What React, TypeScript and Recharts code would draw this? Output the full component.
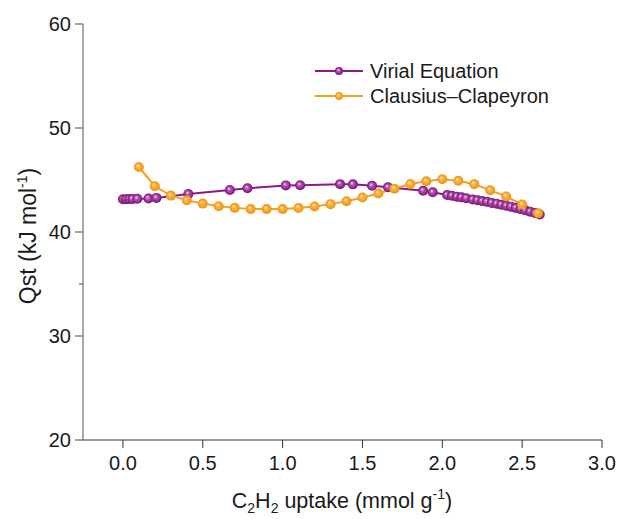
import React from 'react';
import { LineChart, Line, XAxis, YAxis, Legend } from 'recharts';

const virialX = [0, 0.02, 0.04, 0.06, 0.09, 0.16, 0.21, 0.41, 0.67, 0.78, 1.02, 1.11, 1.36, 1.44, 1.56, 1.66, 1.88, 1.94, 2.03, 2.06, 2.09, 2.12, 2.15, 2.19, 2.22, 2.25, 2.28, 2.31, 2.34, 2.37, 2.40, 2.43, 2.46, 2.49, 2.52, 2.55, 2.58, 2.61];
const virialY = [43.15, 43.16, 43.17, 43.18, 43.2, 43.22, 43.28, 43.66, 44.04, 44.2, 44.48, 44.5, 44.6, 44.58, 44.44, 44.3, 43.97, 43.82, 43.55, 43.48, 43.4, 43.33, 43.25, 43.12, 43.05, 42.97, 42.9, 42.8, 42.72, 42.62, 42.52, 42.43, 42.32, 42.2, 42.08, 41.95, 41.82, 41.68];

const ccX = [0.1, 0.2, 0.3, 0.4, 0.5, 0.6, 0.7, 0.8, 0.9, 1.0, 1.1, 1.2, 1.3, 1.4, 1.5, 1.6, 1.7, 1.8, 1.9, 2.0, 2.1, 2.2, 2.3, 2.4, 2.5, 2.6];
const ccY = [46.25, 44.4, 43.5, 43.05, 42.73, 42.48, 42.32, 42.2, 42.2, 42.2, 42.3, 42.46, 42.68, 42.96, 43.32, 43.7, 44.17, 44.62, 44.88, 45.08, 44.92, 44.6, 44.02, 43.42, 42.64, 41.8];

const xTicks = [0, 0.5, 1, 1.5, 2, 2.5, 3];
const yTicks = [20, 30, 35, 40, 50, 60];
const yMinor = [35];
const seriesNames = ['Virial Equation', 'Clausius\u2013Clapeyron'];

const PURPLE = '#8C1889';
const ORANGE = '#F5A01E';
const FONT = '"Liberation Sans", Arial, sans-serif';
const TEXT = '#1a1a1a';

const virialData = virialX.map((x, i) => ({ x, y: virialY[i] }));
const ccData = ccX.map((x, i) => ({ x, y: ccY[i] }));

const makeDot = (grad: string, r: number) => (props: any) => {
  const { cx, cy, index } = props;
  if (cx == null || cy == null) return <g key={index} />;
  return <circle key={index} cx={cx} cy={cy} r={r} fill={`url(#${grad})`} />;
};

const YTick = (props: any) => {
  const { x, y, payload } = props;
  const axisX = x + 12;
  const minor = yMinor.includes(payload.value);
  return (
    <g>
      <line x1={axisX - (minor ? 4 : 8)} x2={axisX} y1={y} y2={y} stroke="#444" strokeWidth={1} />
      {!minor && (
        <text x={x} y={y} dy="0.355em" textAnchor="end" fontSize={20} fontFamily={FONT} fill={TEXT}>
          {payload.value}
        </text>
      )}
    </g>
  );
};

const XLabel = () => (
  <text x={342} y={508} textAnchor="middle" fontSize={21.5} fontFamily={FONT} fill={TEXT}>
    <tspan>C</tspan>
    <tspan fontSize={14} dy={5}>2</tspan>
    <tspan dy={-5}>H</tspan>
    <tspan fontSize={14} dy={5}>2</tspan>
    <tspan dy={-5}> uptake (mmol g</tspan>
    <tspan fontSize={14} dy={-9}>-1</tspan>
    <tspan dy={9}>)</tspan>
  </text>
);

const YLabel = () => (
  <text
    x={0}
    y={0}
    transform="translate(36,236) rotate(-90)"
    textAnchor="middle"
    fontSize={23}
    fontFamily={FONT}
    fill={TEXT}
  >
    <tspan>Qst (kJ mol</tspan>
    <tspan fontSize={14} dy={-9}>-1</tspan>
    <tspan dy={9}>)</tspan>
  </text>
);

const LegendContent = () => {
  const items = [
    { name: seriesNames[0], grad: 'gPurple', color: PURPLE },
    { name: seriesNames[1], grad: 'gOrange', color: ORANGE },
  ];
  return (
    <div style={{ fontFamily: FONT, fontSize: 20, color: TEXT }}>
      {items.map((it) => (
        <div key={it.name} style={{ display: 'flex', alignItems: 'center', height: 25 }}>
          <svg width={55} height={20} style={{ display: 'block' }}>
            <line x1={0} x2={48} y1={10} y2={10} stroke={it.color} strokeWidth={2} />
            <circle cx={24} cy={10} r={4} fill={`url(#${it.grad})`} />
          </svg>
          <span style={{ lineHeight: '20px' }}>{it.name}</span>
        </div>
      ))}
    </div>
  );
};

export default function App() {
  return (
    <div style={{ position: 'absolute', left: 0, top: 0, width: 617, height: 519, background: '#fff' }}>
      <svg width={0} height={0} style={{ position: 'absolute' }}>
        <defs>
          <radialGradient id="gPurple" cx="50%" cy="50%" r="50%" fx="38%" fy="35%">
            <stop offset="0%" stopColor="#F4DDF2" />
            <stop offset="35%" stopColor="#B45AB0" />
            <stop offset="100%" stopColor="#7A0F78" />
          </radialGradient>
          <radialGradient id="gOrange" cx="50%" cy="50%" r="50%" fx="38%" fy="35%">
            <stop offset="0%" stopColor="#FFF2D6" />
            <stop offset="35%" stopColor="#F8B445" />
            <stop offset="100%" stopColor="#EE9410" />
          </radialGradient>
        </defs>
      </svg>
      <LineChart width={617} height={519} margin={{ top: 24, right: 15, bottom: 18, left: 0 }}>
        <XAxis
          type="number"
          dataKey="x"
          domain={[-0.25, 3]}
          ticks={xTicks}
          allowDataOverflow
          height={61}
          tickSize={8}
          tickMargin={8}
          stroke="#333"
          tick={{ fontSize: 20, fontFamily: FONT, fill: TEXT }}
          tickFormatter={(v: number) => v.toFixed(1)}
          label={<XLabel />}
        />
        <XAxis
          xAxisId="top"
          orientation="top"
          type="number"
          domain={[-0.25, 3]}
          height={0}
          tick={false}
          tickLine={false}
          stroke="#333"
        />
        <YAxis
          type="number"
          domain={[20, 60]}
          ticks={yTicks}
          allowDataOverflow
          width={83}
          tickSize={8}
          tickMargin={4}
          tickLine={false}
          stroke="#555"
          tick={<YTick />}
          label={<YLabel />}
        />
        <YAxis
          yAxisId="right"
          orientation="right"
          width={0}
          tick={false}
          tickLine={false}
          stroke="#333"
        />
        <Legend
          layout="vertical"
          align="center"
          verticalAlign="middle"
          content={<LegendContent />}
          wrapperStyle={{ position: 'absolute', left: 315, top: 58, width: 260 }}
        />
        <Line
          data={virialData}
          dataKey="y"
          name={seriesNames[0]}
          type="linear"
          stroke={PURPLE}
          strokeWidth={2}
          dot={makeDot('gPurple', 5)}
          activeDot={false}
          isAnimationActive={false}
        />
        <Line
          data={ccData}
          dataKey="y"
          name={seriesNames[1]}
          type="linear"
          stroke={ORANGE}
          strokeWidth={2}
          dot={makeDot('gOrange', 5)}
          activeDot={false}
          isAnimationActive={false}
        />
      </LineChart>
    </div>
  );
}
